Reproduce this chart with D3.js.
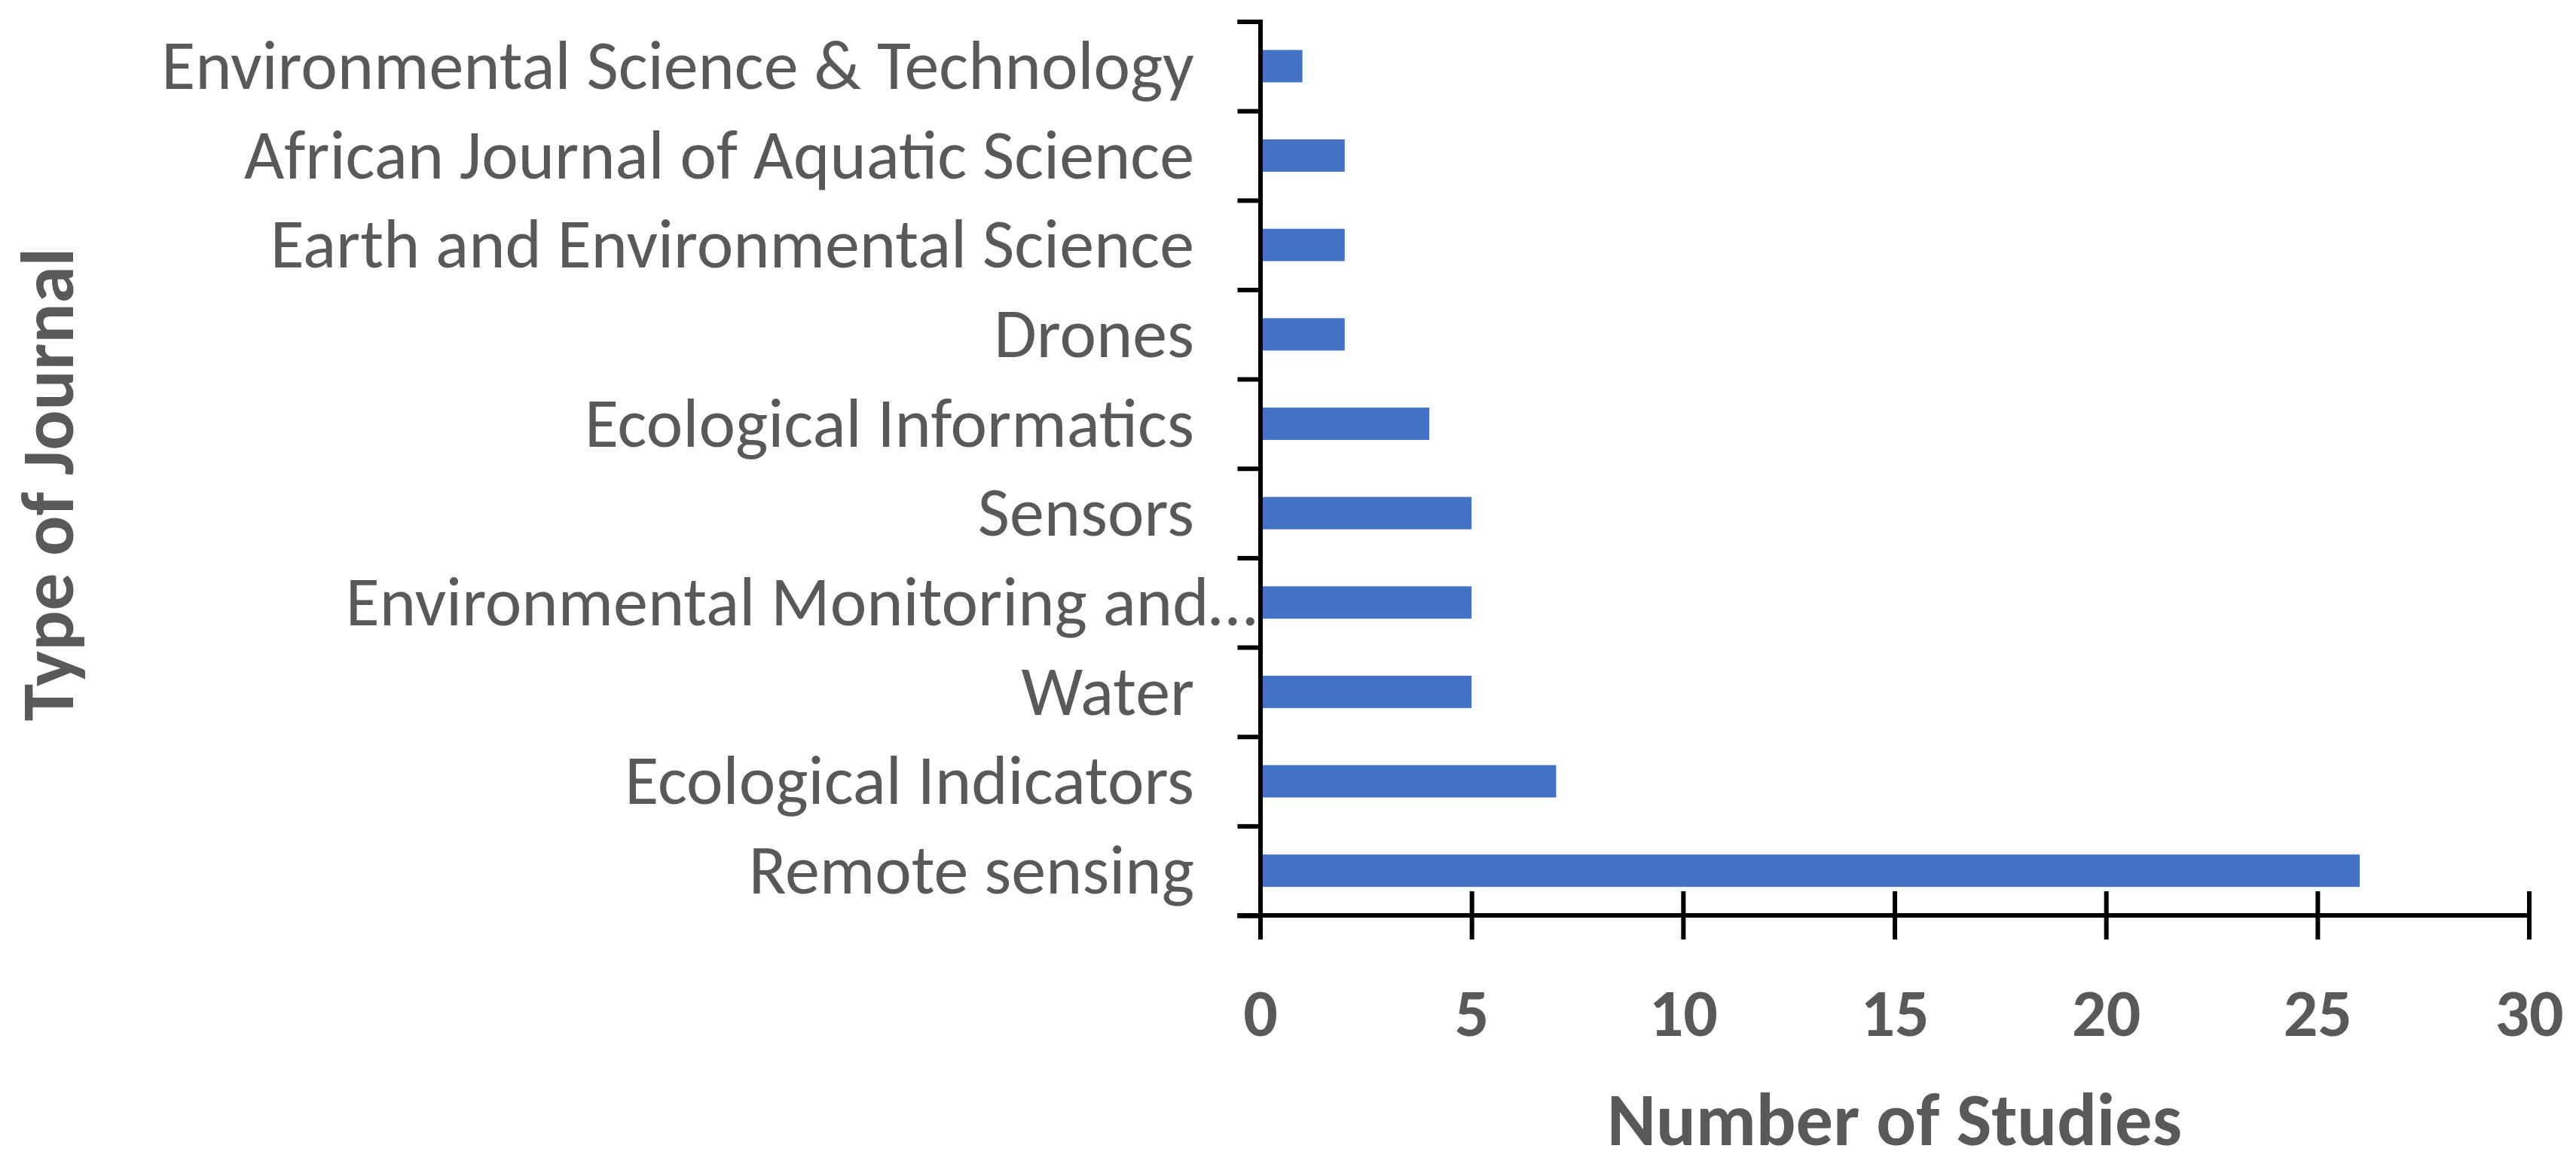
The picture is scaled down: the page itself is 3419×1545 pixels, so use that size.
<!DOCTYPE html>
<html>
<head>
<meta charset="utf-8">
<script src="https://cdn.jsdelivr.net/npm/d3@7"></script>
<style>
  html, body { margin: 0; padding: 0; background: #ffffff; }
  svg { display: block; }
</style>
</head>
<body>
<svg id="chart" width="3419" height="1545"></svg>
<script>
// ---- data (bottom to top as drawn) ----
const categories = [
  "Remote sensing",
  "Ecological Indicators",
  "Water",
  "Environmental Monitoring and…",
  "Sensors",
  "Ecological Informatics",
  "Drones",
  "Earth and Environmental Science",
  "African Journal of Aquatic Science",
  "Environmental Science & Technology"
];
const values = [26, 7, 5, 5, 5, 4, 2, 2, 2, 1];
const xTickValues = [0, 5, 10, 15, 20, 25, 30];
const xTitle = "Number of Studies";
const yTitle = "Type of Journal";

// ---- layout ----
const W = 3419, H = 1545;
const plot = { left: 1672.5, right: 3356.5, top: 28.5, bottom: 1215 };
const FONT = "Carlito, Calibri, Lato, 'Open Sans', sans-serif";
const TEXT = "#595959";
const BAR = "#4472C4";

const svg = d3.select("#chart");

const x = d3.scaleLinear().domain([0, 30]).range([plot.left, plot.right]);
const y = d3.scaleBand()
  .domain(categories.slice().reverse())
  .range([plot.top, plot.bottom])
  .paddingInner(0.638)
  .paddingOuter(0.319);
const yIdx = d3.scaleLinear().domain([0, categories.length]).range([plot.bottom, plot.top]);

// helper: fit font size so that a text has a target width
function fitSize(text, weight, target) {
  const t = svg.append("text").attr("font-family", FONT).attr("font-weight", weight)
    .attr("font-size", 100).text(text);
  const w = t.node().getComputedTextLength();
  t.remove();
  return 100 * target / w;
}

// ---- bars ----
svg.append("g").selectAll("rect")
  .data(categories.map((c, i) => ({ c, v: values[i] })))
  .join("rect")
  .attr("x", x(0))
  .attr("y", d => y(d.c))
  .attr("width", d => x(d.v) - x(0))
  .attr("height", y.bandwidth())
  .attr("fill", BAR);

// ---- y axis (ticks at category boundaries) ----
const yAxis = svg.append("g")
  .attr("transform", `translate(${plot.left},0)`)
  .call(d3.axisLeft(yIdx).ticks(categories.length).tickSize(30).tickSizeOuter(30).tickFormat(""));
yAxis.selectAll("path, line").attr("stroke", "#000").attr("stroke-width", 6);
yAxis.select(".domain").attr("fill", "none");

// category labels
const labSize = fitSize("Environmental Science & Technology", 400, 1371);
const capH = 0.66 * labSize;
svg.append("g").selectAll("text")
  .data(categories)
  .join("text")
  .attr("x", (d) => d.endsWith("…") ? 1668 : 1585)
  .attr("y", d => y(d) + y.bandwidth() / 2 + capH / 2)
  .attr("text-anchor", "end")
  .attr("font-family", FONT)
  .attr("font-size", labSize)
  .attr("fill", TEXT)
  .text(d => d);

// ---- x axis ----
const xAxis = svg.append("g")
  .attr("transform", `translate(0,${plot.bottom})`)
  .call(d3.axisBottom(x).tickValues(xTickValues).tickSize(32).tickSizeOuter(0).tickFormat(d3.format("d")));
xAxis.select(".domain")
  .attr("d", `M${plot.left - 30},0H${plot.right}`)
  .attr("stroke", "#000").attr("stroke-width", 6);
xAxis.selectAll(".tick line")
  .attr("y1", -32).attr("y2", 32)
  .attr("stroke", "#000").attr("stroke-width", 6);
xAxis.selectAll(".tick text")
  .attr("y", 160).attr("dy", 0)
  .attr("font-family", FONT)
  .attr("font-weight", 700)
  .attr("font-size", 90)
  .attr("fill", TEXT);

// ---- axis titles ----
const xtSize = fitSize(xTitle, 700, 763);
svg.append("text")
  .attr("x", (plot.left + plot.right) / 2)
  .attr("y", 1520)
  .attr("text-anchor", "middle")
  .attr("font-family", FONT).attr("font-weight", 700)
  .attr("font-size", xtSize).attr("fill", TEXT)
  .text(xTitle);

const ytSize = fitSize(yTitle, 700, 628);
svg.append("text")
  .attr("transform", `translate(97,643) rotate(-90)`)
  .attr("text-anchor", "middle")
  .attr("font-family", FONT).attr("font-weight", 700)
  .attr("font-size", ytSize).attr("fill", TEXT)
  .text(yTitle);
</script>
</body>
</html>
